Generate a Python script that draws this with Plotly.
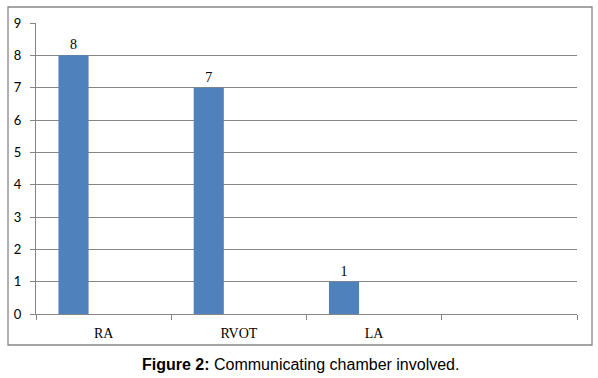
import plotly.graph_objects as go

categories = ["RA", "RVOT", "LA", " "]
values = [8, 7, 1, None]
labels = ["8", "7", "1", ""]

W, H = 598, 378
ml, mr, mt, mb = 36, 21, 23, 64
pw, ph = W - ml - mr, H - mt - mb

grey = "#868686"
fig = go.Figure()
fig.add_trace(go.Bar(
    x=categories, y=values, text=labels, textposition="outside",
    textfont=dict(family="Liberation Serif", size=14, color="black"),
    marker=dict(color="#4F81BD", line=dict(width=0)),
    width=0.2227, offset=-0.334, cliponaxis=False,
))

def px_to_paper_x(px):
    return (px - ml) / pw

def px_to_paper_y(py):
    return (H - mb - py) / ph

fig.add_shape(type="rect", xref="paper", yref="paper",
              x0=px_to_paper_x(8), x1=px_to_paper_x(592),
              y0=px_to_paper_y(345), y1=px_to_paper_y(7),
              line=dict(color=grey, width=1.3), fillcolor="rgba(0,0,0,0)", layer="below")

fig.add_annotation(xref="paper", yref="paper", x=px_to_paper_x(300), y=px_to_paper_y(364),
                   text="<b>Figure 2:</b> Communicating chamber involved.", showarrow=False,
                   font=dict(family="Liberation Sans", size=16, color="black"),
                   xanchor="center", yanchor="middle")

fig.update_layout(
    width=W, height=H, margin=dict(l=ml, r=mr, t=mt, b=mb, autoexpand=False),
    paper_bgcolor="white", plot_bgcolor="white", showlegend=False,
    font=dict(family="Liberation Serif", size=13, color="black"),
)
fig.update_xaxes(type="category", categoryorder="array", categoryarray=categories,
                 range=[-0.5, 3.5], tickson="boundaries", ticks="outside", ticklen=5,
                 tickcolor=grey, showline=True, linecolor=grey, linewidth=1,
                 showgrid=False, ticklabelstandoff=6,
                 tickfont=dict(family="Liberation Serif", size=14, color="black"))
fig.update_yaxes(range=[0, 9], dtick=1, ticks="outside", ticklen=5, tickcolor=grey,
                 showline=True, linecolor=grey, linewidth=1, showgrid=True,
                 gridcolor=grey, gridwidth=1, zeroline=False, ticklabelstandoff=6,
                 tickfont=dict(family="Lato", size=13, color="black"))

fig.write_html("out.html", post_script="document.body.style.margin='0';",
               config={"displayModeBar": False})
